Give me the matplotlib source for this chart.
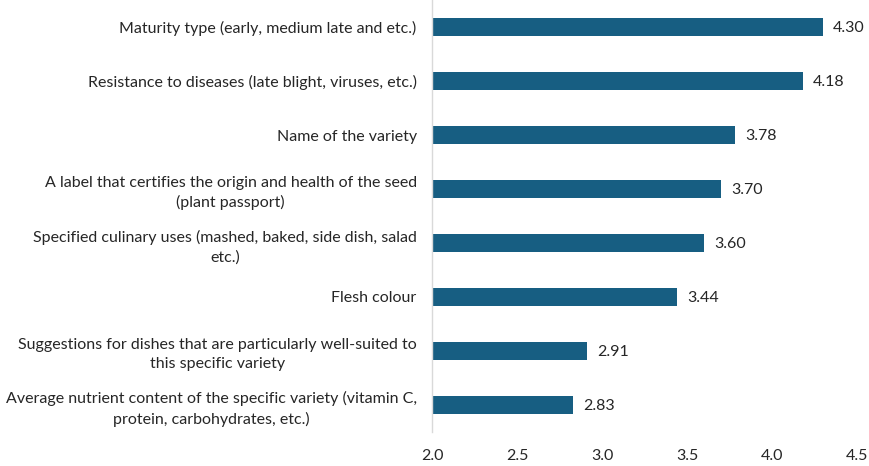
import matplotlib
matplotlib.use("Agg")
import matplotlib.pyplot as plt

categories = [
    "Maturity type (early, medium late and etc.)",
    "Resistance to diseases (late blight, viruses, etc.)",
    "Name of the variety",
    "A label that certifies the origin and health of the seed\n(plant passport)",
    "Specified culinary uses (mashed, baked, side dish, salad\netc.)",
    "Flesh colour",
    "Suggestions for dishes that are particularly well-suited to\nthis specific variety",
    "Average nutrient content of the specific variety (vitamin C,\nprotein, carbohydrates, etc.)",
]
values = [4.30, 4.18, 3.78, 3.70, 3.60, 3.44, 2.91, 2.83]
xticks = [2.0, 2.5, 3.0, 3.5, 4.0, 4.5]

plt.rcParams['font.family'] = ['Lato', 'DejaVu Sans']
fig = plt.figure(figsize=(8.7, 4.66), dpi=100)
ax = fig.add_axes([432/870, 34/466, 425/870, 432/466])

ypos = list(range(len(categories)))
ax.barh(ypos, [v - 2.0 for v in values], left=2.0, height=0.33, color="#175E82")
for y, v in zip(ypos, values):
    ax.text(v + 0.06, y + 0.02, f"{v:.2f}", va="center", ha="left", fontsize=11.5, color="#262626")

ax.set_xlim(2.0, 4.5)
ax.set_ylim(len(categories) - 0.5, -0.5)
ax.set_xticks(xticks)
ax.set_xticklabels([f"{t:.1f}" for t in xticks], fontsize=11.5, color="#262626")
ax.set_yticks(ypos)
ax.set_yticklabels(categories, fontsize=11.5, color="#262626", multialignment="center", linespacing=1.45)
ax.tick_params(axis="both", length=0)
ax.tick_params(axis="x", pad=12)
ax.tick_params(axis="y", pad=11)
for s in ["top", "right", "bottom"]:
    ax.spines[s].set_visible(False)
ax.spines["left"].set_color("#D9D9D9")
ax.spines["left"].set_linewidth(1.0)

fig.savefig("out.png", dpi=100)
